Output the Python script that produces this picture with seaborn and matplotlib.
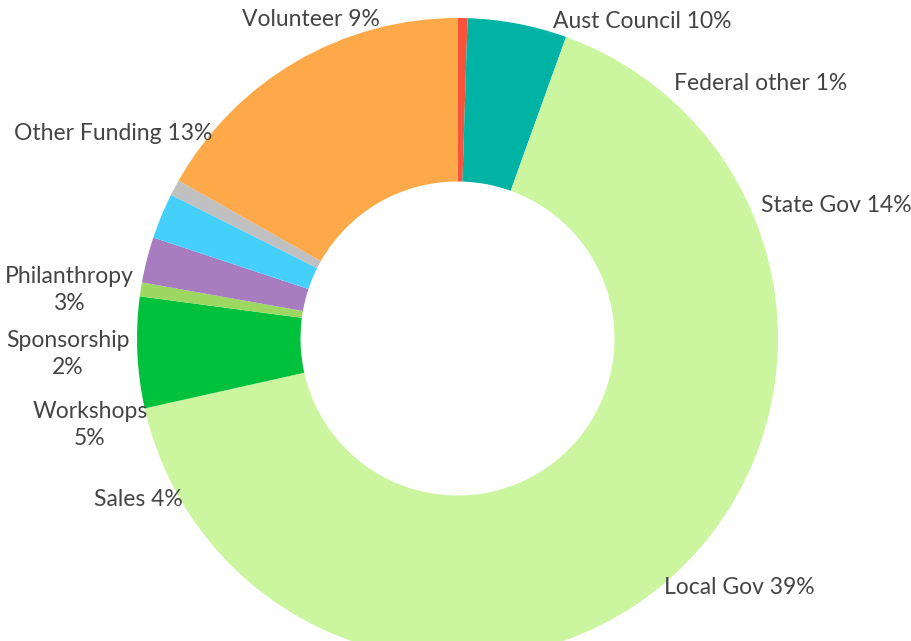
import numpy as np
import pandas as pd
import matplotlib
matplotlib.use("Agg")
import matplotlib.pyplot as plt
import seaborn as sns

# slice shares (clockwise from 12 o'clock)
slice_shares = [0.5, 5.0, 66.0, 5.6, 0.7, 2.3, 2.3, 0.8, 16.8]
slice_colors = ["#F9533B", "#00B3A4", "#CCF5A0", "#00C13B", "#9CD861",
                "#A77DC0", "#44D0FA", "#C0C0C0", "#FDA94A"]

# text labels as shown around the chart
label_text = ["Volunteer 9%", "Aust Council 10%", "Federal other 1%",
              "State Gov 14%", "Local Gov 39%", "Sales 4%",
              "Workshops\n5%", "Sponsorship\n2%", "Philanthropy\n3%",
              "Other Funding 13%"]
label_x = [311, 642, 761, 836, 739, 138, 90, 68, 69, 113]
label_y = [20, 22, 84, 206, 587, 500, 425, 354, 290, 133]

sns.set_theme(style="white")
plt.rcParams['font.family'] = ['Lato', 'DejaVu Sans']

W, H = 911, 641
fig = plt.figure(figsize=(W / 100, H / 100), dpi=100)
ax = fig.add_axes([0, 0, 1, 1])

# donut centre/radius in pixel units
cx, cy, r_out, r_in = 457.5, 338.5, 320.5, 157
ax.pie(slice_shares, colors=slice_colors, startangle=90, counterclock=False,
       center=(cx, H - cy), radius=r_out,
       wedgeprops=dict(width=r_out - r_in, linewidth=0))

for txt, x, y in zip(label_text, label_x, label_y):
    ax.text(x, H - y, txt, ha="center", va="center", fontsize=16.5,
            color="#444444", linespacing=1.35)

ax.set_xlim(0, W)
ax.set_ylim(0, H)
ax.set_aspect("equal")
ax.axis("off")

plt.savefig("out.png", dpi=100)
